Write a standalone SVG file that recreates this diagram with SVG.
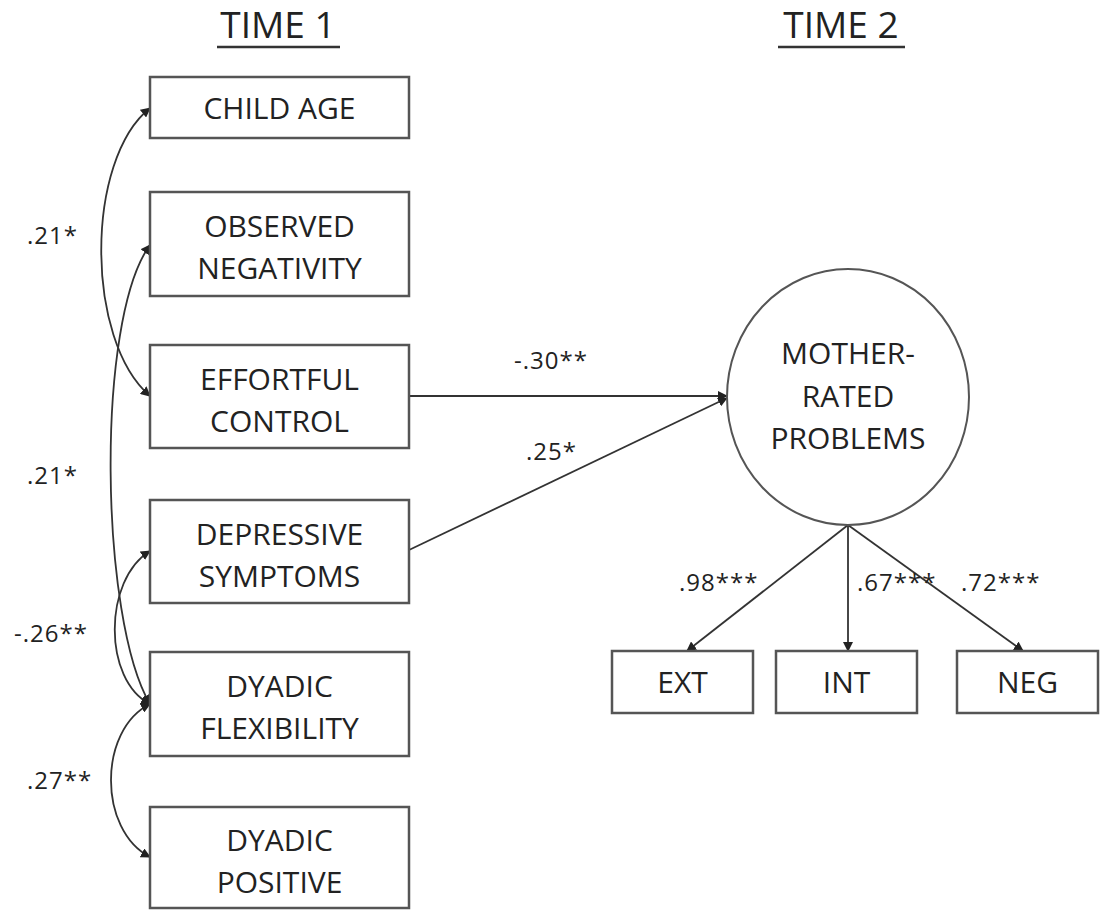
<svg xmlns="http://www.w3.org/2000/svg" width="1100" height="910" viewBox="0 0 1100 910">
<defs>
<style>
.box{fill:#fff;stroke:#555;stroke-width:2.5}
.t{font-family:"Open Sans","Liberation Sans",sans-serif;font-size:30px;fill:#222;text-anchor:middle}
.h{font-family:"Open Sans","Liberation Sans",sans-serif;font-size:37px;fill:#222;text-anchor:middle}
.n{font-family:"Open Sans","Liberation Sans",sans-serif;font-size:24px;fill:#222;letter-spacing:1px}
.c{fill:none;stroke:#333;stroke-width:1.8}
</style>
<marker id="a" viewBox="0 0 10 10" refX="9" refY="5" markerWidth="10" markerHeight="10" markerUnits="userSpaceOnUse" orient="auto-start-reverse">
<path d="M0,0 L10,5 L0,10 z" fill="#222"/>
</marker>
</defs>
<rect width="1100" height="910" fill="#fff"/>
<g id="headers">
<text class="h" x="278" y="38">TIME 1</text>
<line x1="217" y1="47" x2="340" y2="47" stroke="#333" stroke-width="2.5"/>
<text class="h" x="841" y="38">TIME 2</text>
<line x1="778" y1="47" x2="905" y2="47" stroke="#333" stroke-width="2.5"/>
</g>
<g id="connectors">
<path class="c" d="M150,108 C85,160 85,340 150,396" marker-start="url(#a)" marker-end="url(#a)"/>
<path class="c" d="M150,245 C95,320 100,620 150,704" marker-start="url(#a)" marker-end="url(#a)"/>
<path class="c" d="M150,551 C103,580 103,680 150,704" marker-start="url(#a)" marker-end="url(#a)"/>
<path class="c" d="M150,704 C98,730 98,830 150,857" marker-start="url(#a)" marker-end="url(#a)"/>
<line class="c" x1="409" y1="396" x2="727" y2="396" marker-end="url(#a)"/>
<line class="c" x1="409" y1="550" x2="727" y2="398" marker-end="url(#a)"/>
<line class="c" x1="848" y1="525" x2="687" y2="651" marker-end="url(#a)"/>
<line class="c" x1="848" y1="525" x2="848" y2="651" marker-end="url(#a)"/>
<line class="c" x1="848" y1="525" x2="1023" y2="651" marker-end="url(#a)"/>
</g>
<g id="labels">
<text class="n" x="27" y="244">.21*</text>
<text class="n" x="27" y="484">.21*</text>
<text class="n" x="14" y="642">-.26**</text>
<text class="n" x="27" y="789">.27**</text>
<text class="n" x="514" y="369">-.30**</text>
<text class="n" x="526" y="460">.25*</text>
<text class="n" x="679" y="591">.98***</text>
<text class="n" x="857" y="591">.67***</text>
<text class="n" x="961" y="591">.72***</text>
</g>
<g id="child-age"><rect class="box" x="150" y="77" width="259" height="61"/><text class="t" x="279.5" y="119">CHILD AGE</text></g>
<g id="observed-negativity"><rect class="box" x="150" y="192" width="259" height="104"/><text class="t" x="279.5" y="237">OBSERVED</text><text class="t" x="279.5" y="279">NEGATIVITY</text></g>
<g id="effortful-control"><rect class="box" x="150" y="345" width="259" height="103"/><text class="t" x="279.5" y="390">EFFORTFUL</text><text class="t" x="279.5" y="432">CONTROL</text></g>
<g id="depressive-symptoms"><rect class="box" x="150" y="500" width="259" height="103"/><text class="t" x="279.5" y="545">DEPRESSIVE</text><text class="t" x="279.5" y="587">SYMPTOMS</text></g>
<g id="dyadic-flexibility"><rect class="box" x="150" y="652" width="259" height="104"/><text class="t" x="279.5" y="697">DYADIC</text><text class="t" x="279.5" y="739">FLEXIBILITY</text></g>
<g id="dyadic-positive"><rect class="box" x="150" y="807" width="259" height="101"/><text class="t" x="279.5" y="851">DYADIC</text><text class="t" x="279.5" y="893">POSITIVE</text></g>
<g id="mother-rated-problems"><ellipse cx="848" cy="397" rx="121" ry="128" fill="#fff" stroke="#555" stroke-width="2"/><text class="t" x="848" y="364">MOTHER-</text><text class="t" x="848" y="407">RATED</text><text class="t" x="848" y="449">PROBLEMS</text></g>
<g id="ext"><rect class="box" x="612" y="651" width="141" height="62"/><text class="t" x="682.5" y="693">EXT</text></g>
<g id="int"><rect class="box" x="776" y="651" width="141" height="62"/><text class="t" x="846.5" y="693">INT</text></g>
<g id="neg"><rect class="box" x="957" y="651" width="141" height="62"/><text class="t" x="1027.5" y="693">NEG</text></g>
</svg>
